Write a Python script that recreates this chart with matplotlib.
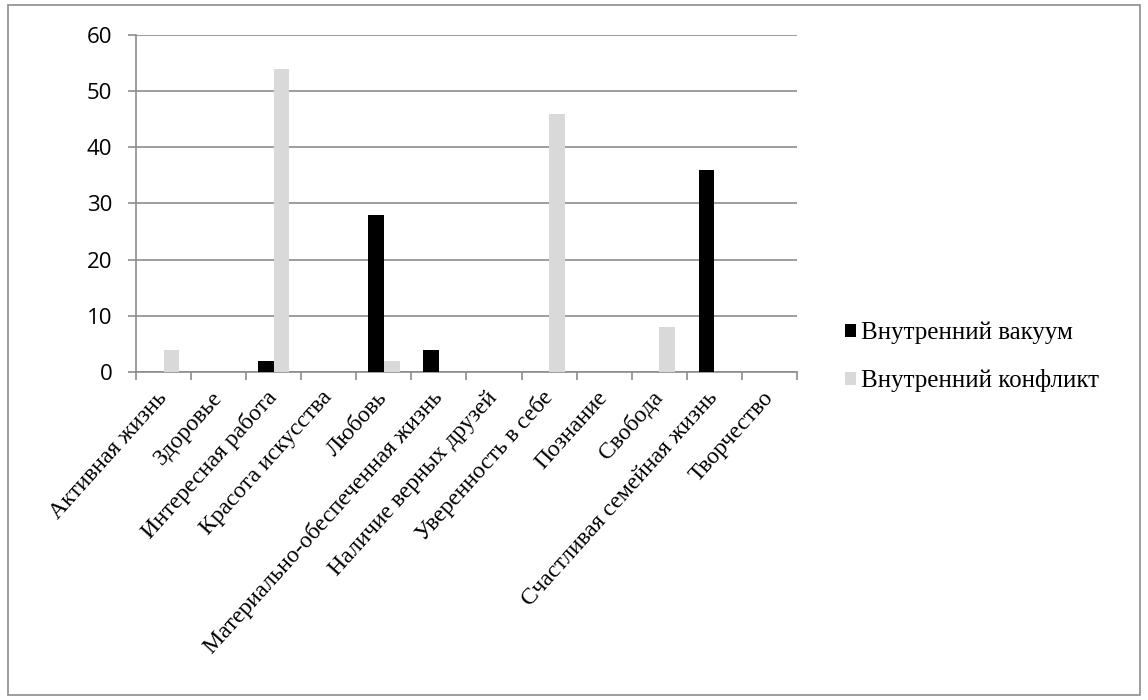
import matplotlib.pyplot as plt
import numpy as np
from matplotlib.patches import Rectangle
from matplotlib.font_manager import FontProperties

categories = ['Активная жизнь', 'Здоровье', 'Интересная работа', 'Красота искусства',
              'Любовь', 'Материально-обеспеченная жизнь', 'Наличие верных друзей',
              'Уверенность в себе', 'Познание', 'Свобода', 'Счастливая семейная жизнь',
              'Творчество']
vacuum = [0, 0, 2, 0, 28, 4, 0, 0, 0, 0, 36, 0]
conflict = [4, 0, 54, 0, 2, 0, 0, 46, 0, 8, 0, 0]
series_names = ['Внутренний вакуум', 'Внутренний конфликт']
y_ticks = [0, 10, 20, 30, 40, 50, 60]

serif = ['Liberation Serif', 'DejaVu Serif']

fig = plt.figure(figsize=(11.48, 7), dpi=100)
ax = fig.add_axes([0.1185, 0.4686, 0.5757, 0.4814])

x = np.arange(len(categories))
w = 1 / 3.5
ax.bar(x - w / 2, vacuum, width=w, color='black', label=series_names[0], zorder=3)
ax.bar(x + w / 2, conflict, width=w, color='#d9d9d9', label=series_names[1], zorder=3)

ax.set_xlim(-0.5, len(categories) - 0.5)
ax.set_ylim(0, 60)
ax.set_yticks(y_ticks)
ax.yaxis.grid(True, color='#8c8c8c', linewidth=1.2, zorder=0)
ax.set_axisbelow(True)

# category labels centered, ticks on boundaries
ax.set_xticks(x)
ax.set_xticklabels(categories, rotation=48, ha='right', va='center',
                   rotation_mode='anchor', family=serif, fontsize=17)
ax.set_xticks(np.arange(-0.5, len(categories)), minor=True)
ax.tick_params(axis='x', which='major', length=0, pad=16)
ax.tick_params(axis='x', which='minor', length=6, color='#8c8c8c', width=1.2)
ax.tick_params(axis='y', length=6, color='#8c8c8c', width=1.2, labelsize=16, pad=11)
for lbl in ax.get_yticklabels():
    lbl.set_family('Open Sans')

for side in ['top', 'right']:
    ax.spines[side].set_visible(False)
for side in ['left', 'bottom']:
    ax.spines[side].set_color('#8c8c8c')
    ax.spines[side].set_linewidth(1.2)

leg = fig.legend(loc='center left', bbox_to_anchor=(0.725, 0.49), frameon=False,
                 prop=FontProperties(family=serif, size=18),
                 handlelength=0.45, handleheight=0.45, handletextpad=0.2, labelspacing=1.0,
                 borderpad=0)

# outer chart border
fig.patches.append(Rectangle((0.007, 0.007), 0.986, 0.986, transform=fig.transFigure,
                             fill=False, edgecolor='#8c8c8c', linewidth=1.2))

fig.savefig('out.png', dpi=100)
